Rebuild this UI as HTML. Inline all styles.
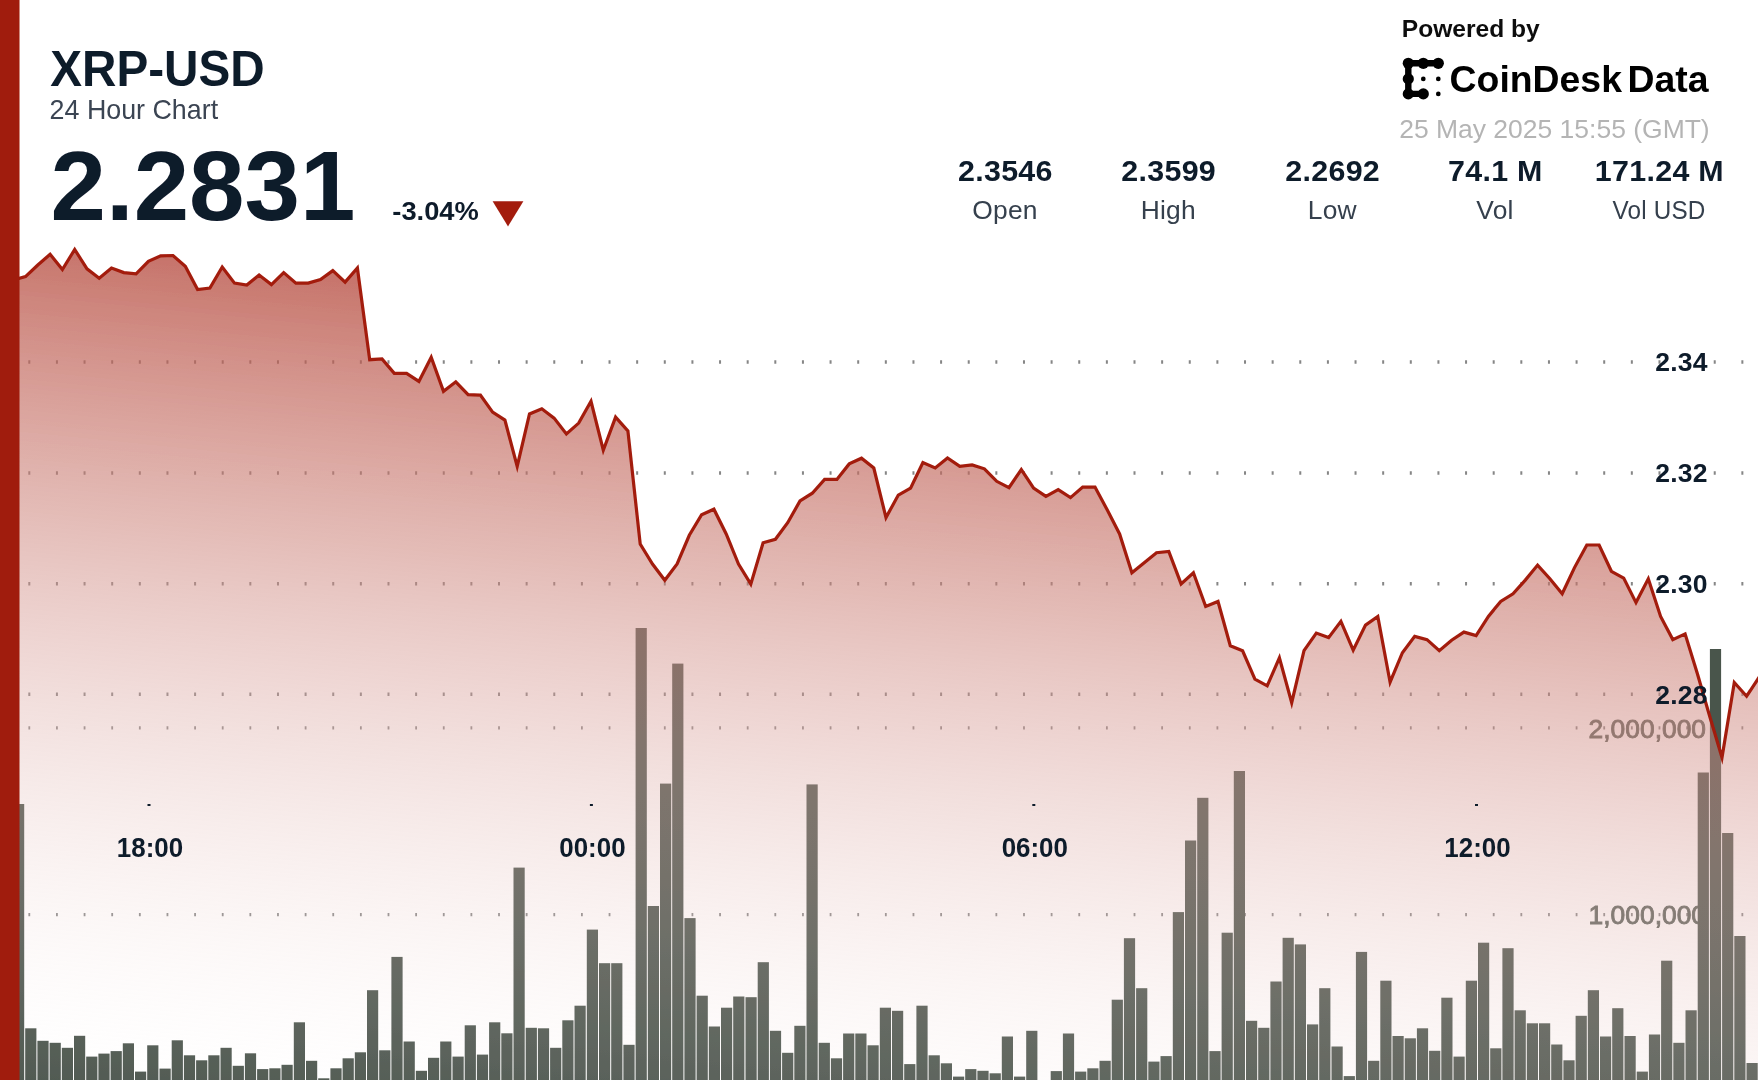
<!DOCTYPE html>
<html lang="en"><head><meta charset="utf-8"><title>XRP-USD 24 Hour Chart</title>
<style>
html,body{margin:0;padding:0;background:#fff;}
body{width:1758px;height:1080px;overflow:hidden;position:relative;}
svg{position:absolute;left:0;top:0;display:block;}
text{font-family:"Liberation Sans", Arial, sans-serif;}
.b{font-weight:700;}
</style></head><body>
<svg width="1758" height="1080" viewBox="0 0 1758 1080">
<defs><linearGradient id="g" gradientUnits="userSpaceOnUse" x1="1758.0" y1="171.0" x2="1646.6" y2="1284.9">
<stop offset="0.0000" stop-color="rgb(163,28,12)" stop-opacity="1.0000"/>
<stop offset="0.0417" stop-color="rgb(167,37,22)" stop-opacity="0.9583"/>
<stop offset="0.0833" stop-color="rgb(171,47,32)" stop-opacity="0.9167"/>
<stop offset="0.1250" stop-color="rgb(174,56,42)" stop-opacity="0.8750"/>
<stop offset="0.1667" stop-color="rgb(178,66,52)" stop-opacity="0.8333"/>
<stop offset="0.2083" stop-color="rgb(182,75,63)" stop-opacity="0.7917"/>
<stop offset="0.2500" stop-color="rgb(186,85,73)" stop-opacity="0.7500"/>
<stop offset="0.2917" stop-color="rgb(190,94,83)" stop-opacity="0.7083"/>
<stop offset="0.3333" stop-color="rgb(194,104,93)" stop-opacity="0.6667"/>
<stop offset="0.3750" stop-color="rgb(198,113,103)" stop-opacity="0.6250"/>
<stop offset="0.4167" stop-color="rgb(201,123,113)" stop-opacity="0.5833"/>
<stop offset="0.4583" stop-color="rgb(205,132,123)" stop-opacity="0.5417"/>
<stop offset="0.5000" stop-color="rgb(209,142,134)" stop-opacity="0.5000"/>
<stop offset="0.5417" stop-color="rgb(213,151,144)" stop-opacity="0.4583"/>
<stop offset="0.5833" stop-color="rgb(217,160,154)" stop-opacity="0.4167"/>
<stop offset="0.6250" stop-color="rgb(220,170,164)" stop-opacity="0.3750"/>
<stop offset="0.6667" stop-color="rgb(224,179,174)" stop-opacity="0.3333"/>
<stop offset="0.7083" stop-color="rgb(228,189,184)" stop-opacity="0.2917"/>
<stop offset="0.7500" stop-color="rgb(232,198,194)" stop-opacity="0.2500"/>
<stop offset="0.7917" stop-color="rgb(236,208,204)" stop-opacity="0.2083"/>
<stop offset="0.8333" stop-color="rgb(240,217,214)" stop-opacity="0.1667"/>
<stop offset="0.8750" stop-color="rgb(244,227,225)" stop-opacity="0.1250"/>
<stop offset="0.9167" stop-color="rgb(247,236,235)" stop-opacity="0.0833"/>
<stop offset="0.9583" stop-color="rgb(251,246,245)" stop-opacity="0.0417"/>
<stop offset="1.0000" stop-color="rgb(255,255,255)" stop-opacity="0.0000"/>
</linearGradient>
<filter id="bl" filterUnits="userSpaceOnUse" x="-40" y="-40" width="1838" height="1160"><feGaussianBlur stdDeviation="0.55"/></filter></defs>
<g filter="url(#bl)">
<line x1="28.3" y1="362.0" x2="1758" y2="362.0" stroke="#868686" stroke-width="3.4" stroke-dasharray="2.00 25.63"/>
<line x1="28.3" y1="473.0" x2="1758" y2="473.0" stroke="#868686" stroke-width="3.4" stroke-dasharray="2.00 25.63"/>
<line x1="28.3" y1="583.7" x2="1758" y2="583.7" stroke="#868686" stroke-width="3.4" stroke-dasharray="2.00 25.63"/>
<line x1="28.3" y1="694.3" x2="1758" y2="694.3" stroke="#868686" stroke-width="3.4" stroke-dasharray="2.00 25.63"/>
<line x1="28.4" y1="727.8" x2="1758" y2="727.8" stroke="#8a8a8a" stroke-width="3.2" stroke-dasharray="1.80 25.83"/>
<line x1="28.4" y1="914.6" x2="1758" y2="914.6" stroke="#8a8a8a" stroke-width="3.2" stroke-dasharray="1.80 25.83"/>
<text x="1706" y="737.6" text-anchor="end" font-size="26.4" fill="#4a544c" stroke="#4a544c" stroke-width="0.9" opacity="0.92">2,000,000</text>
<text x="1706" y="924.4" text-anchor="end" font-size="26.4" fill="#4a544c" stroke="#4a544c" stroke-width="0.9" opacity="0.92">1,000,000</text>
<g fill="#4a544c">
<rect x="0.8" y="1000.0" width="11.2" height="130.0"/>
<rect x="13.0" y="804.0" width="11.2" height="326.0"/>
<rect x="25.2" y="1028.3" width="11.2" height="101.7"/>
<rect x="37.4" y="1040.8" width="11.2" height="89.2"/>
<rect x="49.6" y="1042.8" width="11.2" height="87.2"/>
<rect x="61.8" y="1047.8" width="11.2" height="82.2"/>
<rect x="74.0" y="1035.8" width="11.2" height="94.2"/>
<rect x="86.2" y="1056.6" width="11.2" height="73.4"/>
<rect x="98.4" y="1053.6" width="11.2" height="76.4"/>
<rect x="110.6" y="1051.1" width="11.2" height="78.9"/>
<rect x="122.8" y="1043.3" width="11.2" height="86.7"/>
<rect x="135.0" y="1071.6" width="11.2" height="58.4"/>
<rect x="147.2" y="1045.3" width="11.2" height="84.7"/>
<rect x="159.5" y="1068.6" width="11.2" height="61.4"/>
<rect x="171.7" y="1040.3" width="11.2" height="89.7"/>
<rect x="183.9" y="1055.3" width="11.2" height="74.7"/>
<rect x="196.1" y="1060.3" width="11.2" height="69.7"/>
<rect x="208.3" y="1055.3" width="11.2" height="74.7"/>
<rect x="220.5" y="1047.8" width="11.2" height="82.2"/>
<rect x="232.7" y="1065.8" width="11.2" height="64.2"/>
<rect x="244.9" y="1053.3" width="11.2" height="76.7"/>
<rect x="257.1" y="1069.1" width="11.2" height="60.9"/>
<rect x="269.3" y="1068.3" width="11.2" height="61.7"/>
<rect x="281.5" y="1064.8" width="11.2" height="65.2"/>
<rect x="293.8" y="1022.3" width="11.2" height="107.7"/>
<rect x="306.0" y="1060.8" width="11.2" height="69.2"/>
<rect x="318.2" y="1078.3" width="11.2" height="51.7"/>
<rect x="330.4" y="1068.3" width="11.2" height="61.7"/>
<rect x="342.6" y="1058.3" width="11.2" height="71.7"/>
<rect x="354.8" y="1052.3" width="11.2" height="77.7"/>
<rect x="367.0" y="990.2" width="11.2" height="139.8"/>
<rect x="379.2" y="1050.3" width="11.2" height="79.7"/>
<rect x="391.4" y="956.9" width="11.2" height="173.1"/>
<rect x="403.6" y="1041.5" width="11.2" height="88.5"/>
<rect x="415.8" y="1070.8" width="11.2" height="59.2"/>
<rect x="428.0" y="1057.8" width="11.2" height="72.2"/>
<rect x="440.2" y="1041.5" width="11.2" height="88.5"/>
<rect x="452.5" y="1056.6" width="11.2" height="73.4"/>
<rect x="464.7" y="1025.3" width="11.2" height="104.7"/>
<rect x="476.9" y="1054.6" width="11.2" height="75.4"/>
<rect x="489.1" y="1022.3" width="11.2" height="107.7"/>
<rect x="501.3" y="1033.3" width="11.2" height="96.7"/>
<rect x="513.5" y="867.6" width="11.2" height="262.4"/>
<rect x="525.7" y="1027.8" width="11.2" height="102.2"/>
<rect x="537.9" y="1028.3" width="11.2" height="101.7"/>
<rect x="550.1" y="1047.8" width="11.2" height="82.2"/>
<rect x="562.3" y="1020.3" width="11.2" height="109.7"/>
<rect x="574.5" y="1005.7" width="11.2" height="124.3"/>
<rect x="586.8" y="929.6" width="11.2" height="200.4"/>
<rect x="599.0" y="963.2" width="11.2" height="166.8"/>
<rect x="611.2" y="963.2" width="11.2" height="166.8"/>
<rect x="623.4" y="1044.8" width="11.2" height="85.2"/>
<rect x="635.6" y="628.0" width="11.2" height="502.0"/>
<rect x="647.8" y="906.0" width="11.2" height="224.0"/>
<rect x="660.0" y="783.6" width="11.2" height="346.4"/>
<rect x="672.2" y="663.6" width="11.2" height="466.4"/>
<rect x="684.4" y="918.1" width="11.2" height="211.9"/>
<rect x="696.6" y="995.7" width="11.2" height="134.3"/>
<rect x="708.8" y="1026.5" width="11.2" height="103.5"/>
<rect x="721.0" y="1007.7" width="11.2" height="122.3"/>
<rect x="733.2" y="996.5" width="11.2" height="133.5"/>
<rect x="745.5" y="997.2" width="11.2" height="132.8"/>
<rect x="757.7" y="962.2" width="11.2" height="167.8"/>
<rect x="769.9" y="1030.8" width="11.2" height="99.2"/>
<rect x="782.1" y="1052.8" width="11.2" height="77.2"/>
<rect x="794.3" y="1025.8" width="11.2" height="104.2"/>
<rect x="806.5" y="784.4" width="11.2" height="345.6"/>
<rect x="818.7" y="1042.8" width="11.2" height="87.2"/>
<rect x="830.9" y="1058.3" width="11.2" height="71.7"/>
<rect x="843.1" y="1033.5" width="11.2" height="96.5"/>
<rect x="855.3" y="1033.5" width="11.2" height="96.5"/>
<rect x="867.5" y="1045.3" width="11.2" height="84.7"/>
<rect x="879.8" y="1007.7" width="11.2" height="122.3"/>
<rect x="892.0" y="1010.8" width="11.2" height="119.2"/>
<rect x="904.2" y="1064.1" width="11.2" height="65.9"/>
<rect x="916.4" y="1005.7" width="11.2" height="124.3"/>
<rect x="928.6" y="1055.3" width="11.2" height="74.7"/>
<rect x="940.8" y="1063.3" width="11.2" height="66.7"/>
<rect x="953.0" y="1076.6" width="11.2" height="53.4"/>
<rect x="965.2" y="1069.1" width="11.2" height="60.9"/>
<rect x="977.4" y="1070.8" width="11.2" height="59.2"/>
<rect x="989.6" y="1073.3" width="11.2" height="56.7"/>
<rect x="1001.8" y="1036.5" width="11.2" height="93.5"/>
<rect x="1014.0" y="1076.6" width="11.2" height="53.4"/>
<rect x="1026.2" y="1030.8" width="11.2" height="99.2"/>
<rect x="1050.7" y="1071.1" width="11.2" height="58.9"/>
<rect x="1062.9" y="1033.5" width="11.2" height="96.5"/>
<rect x="1075.1" y="1071.6" width="11.2" height="58.4"/>
<rect x="1087.3" y="1068.3" width="11.2" height="61.7"/>
<rect x="1099.5" y="1060.8" width="11.2" height="69.2"/>
<rect x="1111.7" y="999.7" width="11.2" height="130.3"/>
<rect x="1123.9" y="938.2" width="11.2" height="191.8"/>
<rect x="1136.1" y="988.2" width="11.2" height="141.8"/>
<rect x="1148.3" y="1061.6" width="11.2" height="68.4"/>
<rect x="1160.5" y="1056.1" width="11.2" height="73.9"/>
<rect x="1172.8" y="912.1" width="11.2" height="217.9"/>
<rect x="1185.0" y="840.5" width="11.2" height="289.5"/>
<rect x="1197.2" y="797.8" width="11.2" height="332.2"/>
<rect x="1209.4" y="1051.1" width="11.2" height="78.9"/>
<rect x="1221.6" y="932.7" width="11.2" height="197.3"/>
<rect x="1233.8" y="771.0" width="11.2" height="359.0"/>
<rect x="1246.0" y="1020.8" width="11.2" height="109.2"/>
<rect x="1258.2" y="1027.8" width="11.2" height="102.2"/>
<rect x="1270.4" y="981.5" width="11.2" height="148.5"/>
<rect x="1282.6" y="937.8" width="11.2" height="192.2"/>
<rect x="1294.8" y="944.4" width="11.2" height="185.6"/>
<rect x="1307.0" y="1024.4" width="11.2" height="105.6"/>
<rect x="1319.2" y="988.2" width="11.2" height="141.8"/>
<rect x="1331.5" y="1046.5" width="11.2" height="83.5"/>
<rect x="1343.7" y="1076.1" width="11.2" height="53.9"/>
<rect x="1355.9" y="951.9" width="11.2" height="178.1"/>
<rect x="1368.1" y="1060.8" width="11.2" height="69.2"/>
<rect x="1380.3" y="980.7" width="11.2" height="149.3"/>
<rect x="1392.5" y="1036.0" width="11.2" height="94.0"/>
<rect x="1404.7" y="1038.3" width="11.2" height="91.7"/>
<rect x="1416.9" y="1028.3" width="11.2" height="101.7"/>
<rect x="1429.1" y="1050.8" width="11.2" height="79.2"/>
<rect x="1441.3" y="997.7" width="11.2" height="132.3"/>
<rect x="1453.5" y="1056.6" width="11.2" height="73.4"/>
<rect x="1465.8" y="980.7" width="11.2" height="149.3"/>
<rect x="1478.0" y="942.7" width="11.2" height="187.3"/>
<rect x="1490.2" y="1048.3" width="11.2" height="81.7"/>
<rect x="1502.4" y="948.2" width="11.2" height="181.8"/>
<rect x="1514.6" y="1010.3" width="11.2" height="119.7"/>
<rect x="1526.8" y="1023.3" width="11.2" height="106.7"/>
<rect x="1539.0" y="1023.3" width="11.2" height="106.7"/>
<rect x="1551.2" y="1044.5" width="11.2" height="85.5"/>
<rect x="1563.4" y="1060.3" width="11.2" height="69.7"/>
<rect x="1575.6" y="1015.8" width="11.2" height="114.2"/>
<rect x="1587.8" y="990.2" width="11.2" height="139.8"/>
<rect x="1600.0" y="1036.5" width="11.2" height="93.5"/>
<rect x="1612.2" y="1008.2" width="11.2" height="121.8"/>
<rect x="1624.5" y="1036.0" width="11.2" height="94.0"/>
<rect x="1636.7" y="1071.6" width="11.2" height="58.4"/>
<rect x="1648.9" y="1034.5" width="11.2" height="95.5"/>
<rect x="1661.1" y="960.7" width="11.2" height="169.3"/>
<rect x="1673.3" y="1042.8" width="11.2" height="87.2"/>
<rect x="1685.5" y="1010.3" width="11.2" height="119.7"/>
<rect x="1697.7" y="772.5" width="11.2" height="357.5"/>
<rect x="1709.9" y="649.0" width="11.2" height="481.0"/>
<rect x="1722.1" y="833.0" width="11.2" height="297.0"/>
<rect x="1734.3" y="936.0" width="11.2" height="194.0"/>
<rect x="1746.5" y="1063.0" width="11.2" height="67.0"/>
</g>
<polygon fill="url(#g)" points="0.9,283.0 13.2,280.0 25.5,276.6 37.8,265.0 50.1,254.3 62.4,269.5 74.7,249.5 87.0,268.8 99.2,278.3 111.5,268.0 123.8,272.6 136.1,273.8 148.4,261.3 160.7,255.8 173.0,255.5 185.3,266.3 197.6,289.6 209.9,288.1 222.2,267.0 234.5,283.1 246.8,285.1 259.1,275.1 271.4,284.6 283.7,272.6 295.9,283.1 308.2,283.1 320.5,279.6 332.8,270.6 345.1,282.1 357.4,268.0 369.7,359.7 382.0,358.9 394.3,373.4 406.6,373.4 418.9,381.4 431.2,357.2 443.5,391.3 455.8,381.8 468.1,394.6 480.4,395.1 492.6,412.1 504.9,420.1 517.2,466.4 529.5,413.9 541.8,408.8 554.1,418.1 566.4,433.9 578.7,423.1 591.0,401.3 603.3,450.2 615.6,417.1 627.9,430.9 640.2,544.0 652.5,564.0 664.8,580.3 677.1,564.0 689.3,535.3 701.6,514.7 713.9,509.2 726.2,534.0 738.5,564.0 750.8,584.1 763.1,542.8 775.4,539.3 787.7,522.7 800.0,501.0 812.3,493.2 824.6,479.4 836.9,479.4 849.2,463.9 861.5,458.2 873.8,468.0 886.0,517.6 898.3,495.1 910.6,488.1 922.9,462.5 935.2,468.0 947.5,458.0 959.8,466.3 972.1,465.0 984.4,468.8 996.7,481.3 1009.0,487.6 1021.3,469.5 1033.6,488.1 1045.9,496.3 1058.2,489.6 1070.5,497.6 1082.7,487.1 1095.0,487.1 1107.3,510.1 1119.6,533.9 1131.9,572.7 1144.2,562.7 1156.5,552.7 1168.8,551.4 1181.1,583.9 1193.4,572.7 1205.7,606.5 1218.0,601.5 1230.3,645.8 1242.6,650.8 1254.9,679.1 1267.2,685.8 1279.4,657.8 1291.7,702.7 1304.0,650.7 1316.3,633.1 1328.6,637.6 1340.9,621.4 1353.2,650.2 1365.5,625.1 1377.8,616.4 1390.1,682.2 1402.4,652.7 1414.7,636.4 1427.0,639.6 1439.3,650.7 1451.6,640.2 1463.9,632.1 1476.1,635.6 1488.4,616.4 1500.7,601.4 1513.0,593.8 1525.3,580.1 1537.6,565.1 1549.9,578.8 1562.2,593.8 1574.5,567.6 1586.8,545.0 1599.1,545.0 1611.4,571.3 1623.7,578.1 1636.0,602.6 1648.3,578.8 1660.6,616.4 1672.8,639.6 1685.1,633.9 1697.4,673.8 1709.7,716.2 1722.0,757.5 1734.3,682.5 1746.6,696.2 1758.9,677.5 1775.0,669.5 1775,1130 0,1130"/>
<polyline fill="none" stroke="#a31c0c" stroke-width="3.2" stroke-linejoin="miter" stroke-miterlimit="6" stroke-linecap="butt" points="0.9,283.0 13.2,280.0 25.5,276.6 37.8,265.0 50.1,254.3 62.4,269.5 74.7,249.5 87.0,268.8 99.2,278.3 111.5,268.0 123.8,272.6 136.1,273.8 148.4,261.3 160.7,255.8 173.0,255.5 185.3,266.3 197.6,289.6 209.9,288.1 222.2,267.0 234.5,283.1 246.8,285.1 259.1,275.1 271.4,284.6 283.7,272.6 295.9,283.1 308.2,283.1 320.5,279.6 332.8,270.6 345.1,282.1 357.4,268.0 369.7,359.7 382.0,358.9 394.3,373.4 406.6,373.4 418.9,381.4 431.2,357.2 443.5,391.3 455.8,381.8 468.1,394.6 480.4,395.1 492.6,412.1 504.9,420.1 517.2,466.4 529.5,413.9 541.8,408.8 554.1,418.1 566.4,433.9 578.7,423.1 591.0,401.3 603.3,450.2 615.6,417.1 627.9,430.9 640.2,544.0 652.5,564.0 664.8,580.3 677.1,564.0 689.3,535.3 701.6,514.7 713.9,509.2 726.2,534.0 738.5,564.0 750.8,584.1 763.1,542.8 775.4,539.3 787.7,522.7 800.0,501.0 812.3,493.2 824.6,479.4 836.9,479.4 849.2,463.9 861.5,458.2 873.8,468.0 886.0,517.6 898.3,495.1 910.6,488.1 922.9,462.5 935.2,468.0 947.5,458.0 959.8,466.3 972.1,465.0 984.4,468.8 996.7,481.3 1009.0,487.6 1021.3,469.5 1033.6,488.1 1045.9,496.3 1058.2,489.6 1070.5,497.6 1082.7,487.1 1095.0,487.1 1107.3,510.1 1119.6,533.9 1131.9,572.7 1144.2,562.7 1156.5,552.7 1168.8,551.4 1181.1,583.9 1193.4,572.7 1205.7,606.5 1218.0,601.5 1230.3,645.8 1242.6,650.8 1254.9,679.1 1267.2,685.8 1279.4,657.8 1291.7,702.7 1304.0,650.7 1316.3,633.1 1328.6,637.6 1340.9,621.4 1353.2,650.2 1365.5,625.1 1377.8,616.4 1390.1,682.2 1402.4,652.7 1414.7,636.4 1427.0,639.6 1439.3,650.7 1451.6,640.2 1463.9,632.1 1476.1,635.6 1488.4,616.4 1500.7,601.4 1513.0,593.8 1525.3,580.1 1537.6,565.1 1549.9,578.8 1562.2,593.8 1574.5,567.6 1586.8,545.0 1599.1,545.0 1611.4,571.3 1623.7,578.1 1636.0,602.6 1648.3,578.8 1660.6,616.4 1672.8,639.6 1685.1,633.9 1697.4,673.8 1709.7,716.2 1722.0,757.5 1734.3,682.5 1746.6,696.2 1758.9,677.5 1775.0,669.5"/>
<text class="b" x="1707.6" y="371.3" text-anchor="end" font-size="26.5" letter-spacing="0.2" fill="#0e1a2b">2.34</text>
<text class="b" x="1707.6" y="482.3" text-anchor="end" font-size="26.5" letter-spacing="0.2" fill="#0e1a2b">2.32</text>
<text class="b" x="1707.6" y="593.0" text-anchor="end" font-size="26.5" letter-spacing="0.2" fill="#0e1a2b">2.30</text>
<text class="b" x="1707.6" y="703.6" text-anchor="end" font-size="26.5" letter-spacing="0.2" fill="#0e1a2b">2.28</text>
<text class="b" x="150.0" y="856.8" text-anchor="middle" font-size="27" textLength="66.3" lengthAdjust="spacingAndGlyphs" fill="#0e1a2b">18:00</text>
<rect x="147.5" y="804" width="3" height="2" fill="#0e1a2b"/>
<text class="b" x="592.4" y="856.8" text-anchor="middle" font-size="27" textLength="66.3" lengthAdjust="spacingAndGlyphs" fill="#0e1a2b">00:00</text>
<rect x="589.9" y="804" width="3" height="2" fill="#0e1a2b"/>
<text class="b" x="1034.8" y="856.8" text-anchor="middle" font-size="27" textLength="66.3" lengthAdjust="spacingAndGlyphs" fill="#0e1a2b">06:00</text>
<rect x="1032.3" y="804" width="3" height="2" fill="#0e1a2b"/>
<text class="b" x="1477.5" y="856.8" text-anchor="middle" font-size="27" textLength="66.3" lengthAdjust="spacingAndGlyphs" fill="#0e1a2b">12:00</text>
<rect x="1475.0" y="804" width="3" height="2" fill="#0e1a2b"/>
<rect x="-30" y="-30" width="49.5" height="1140" fill="#a01b0b"/>
<text class="b" x="50.2" y="85.9" font-size="50" fill="#0e1a2b" textLength="214.5" lengthAdjust="spacingAndGlyphs">XRP-USD</text>
<text x="49.6" y="118.5" font-size="27.6" fill="#3b4452" textLength="168.5" lengthAdjust="spacingAndGlyphs">24 Hour Chart</text>
<text class="b" x="50.5" y="220.4" font-size="99" fill="#0e1a2b" textLength="305" lengthAdjust="spacingAndGlyphs">2.2831</text>
<text class="b" x="392.3" y="220.3" font-size="25" fill="#0e1a2b" textLength="86.5" lengthAdjust="spacingAndGlyphs">-3.04%</text>
<polygon points="492.6,201.2 523.4,201.2 508,226.4" fill="#a31c0c"/>
<text class="b" x="1005.4" y="181.2" text-anchor="middle" font-size="30.4" letter-spacing="0.3" fill="#0e1a2b">2.3546</text>
<text x="1005.0" y="218.6" text-anchor="middle" font-size="26.4" letter-spacing="0.2" fill="#36404d">Open</text>
<text class="b" x="1168.7" y="181.2" text-anchor="middle" font-size="30.4" letter-spacing="0.3" fill="#0e1a2b">2.3599</text>
<text x="1168.3" y="218.6" text-anchor="middle" font-size="26.4" letter-spacing="0.2" fill="#36404d">High</text>
<text class="b" x="1332.7" y="181.2" text-anchor="middle" font-size="30.4" letter-spacing="0.3" fill="#0e1a2b">2.2692</text>
<text x="1332.3" y="218.6" text-anchor="middle" font-size="26.4" letter-spacing="0.2" fill="#36404d">Low</text>
<text class="b" x="1495.4" y="181.2" text-anchor="middle" font-size="30.4" letter-spacing="0.3" fill="#0e1a2b">74.1 M</text>
<text x="1495.0" y="218.6" text-anchor="middle" font-size="26.4" letter-spacing="0.2" fill="#36404d">Vol</text>
<text class="b" x="1659.4" y="181.2" text-anchor="middle" font-size="30.4" letter-spacing="0.3" fill="#0e1a2b">171.24 M</text>
<text x="1659.0" y="218.6" text-anchor="middle" font-size="26.4" letter-spacing="0.2" textLength="93" lengthAdjust="spacingAndGlyphs" fill="#36404d">Vol USD</text>
<text class="b" x="1401.8" y="36.5" font-size="24" fill="#111" textLength="138" lengthAdjust="spacingAndGlyphs">Powered by</text>
<text class="b" x="1449.6" y="91.6" font-size="36" fill="#000" word-spacing="-4.5" textLength="259" lengthAdjust="spacingAndGlyphs">CoinDesk Data</text>
<text x="1399.2" y="137.6" font-size="26" fill="#b4b4b4" textLength="310.5" lengthAdjust="spacingAndGlyphs">25 May 2025 15:55 (GMT)</text>
<g fill="#000" stroke="#000">
<path d="M1408.3 63.3 H1438.3 M1408.3 63.3 V93.9 H1423.3" fill="none" stroke-width="6.4" stroke-linecap="round"/>
<circle cx="1408.3" cy="63.3" r="5.6" stroke="none"/>
<circle cx="1423.3" cy="63.3" r="5.6" stroke="none"/>
<circle cx="1438.3" cy="63.3" r="5.6" stroke="none"/>
<circle cx="1408.3" cy="78.9" r="5.6" stroke="none"/>
<circle cx="1408.3" cy="93.9" r="5.6" stroke="none"/>
<circle cx="1423.3" cy="93.9" r="5.6" stroke="none"/>
<circle cx="1423.3" cy="78.9" r="2.35" stroke="none"/>
<circle cx="1438.3" cy="78.9" r="2.35" stroke="none"/>
<circle cx="1438.3" cy="93.9" r="2.35" stroke="none"/>
</g>
</g>
</svg>
</body></html>
